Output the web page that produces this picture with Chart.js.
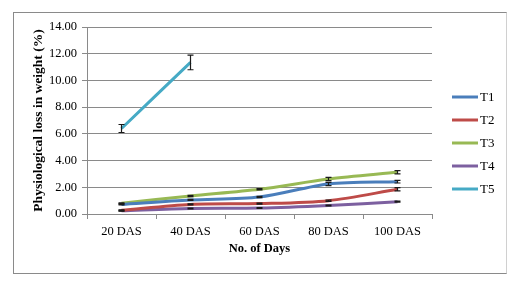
<!DOCTYPE html>
<html>
<head>
<meta charset="utf-8">
<script src="https://cdn.jsdelivr.net/npm/chart.js@4.4.0/dist/chart.umd.min.js"></script>
<style>
  html, body { margin: 0; padding: 0; background: #fff; }
  #frame {
    position: absolute; left: 13px; top: 12px;
    width: 492px; height: 260px;
    border: 1px solid #8a8a8a; border-right-color: #d0d0d0;
  }
  #frame canvas { display: block; }
</style>
</head>
<body>
<div id="frame"><canvas id="plw" width="492" height="260"></canvas></div>
<script>
// ── Data ──────────────────────────────────────────────────────
const days = ["20 DAS", "40 DAS", "60 DAS", "80 DAS", "100 DAS"];

const t1 = [0.72, 1.05, 1.27, 2.25, 2.42];
const t2 = [0.28, 0.72, 0.78, 1.00, 1.85];
const t3 = [0.80, 1.35, 1.85, 2.62, 3.12];
const t4 = [0.25, 0.42, 0.45, 0.64, 0.92];
const t5 = [6.40, 11.35, null, null, null];

// standard error per point
const t1Err = [0.04, 0.04, 0.05, 0.12, 0.10];
const t2Err = [0.04, 0.04, 0.04, 0.05, 0.12];
const t3Err = [0.04, 0.05, 0.05, 0.12, 0.12];
const t4Err = [0.03, 0.03, 0.03, 0.03, 0.04];
const t5Err = [0.30, 0.55, null, null, null];

const yTicks = [0, 2, 4, 6, 8, 10, 12, 14];

const SERIF = "'Liberation Serif', 'Times New Roman', serif";

// ── Error bars, drawn through the y scale ─────────────────────
const errorBars = {
  id: "errorBars",
  afterDatasetsDraw(chart) {
    const { ctx, scales: { y } } = chart;
    ctx.save();
    ctx.strokeStyle = "#1a1a1a";
    ctx.lineWidth = 1.2;
    chart.data.datasets.forEach((ds, i) => {
      const meta = chart.getDatasetMeta(i);
      (ds.errors || []).forEach((e, j) => {
        const v = ds.data[j];
        if (v == null || e == null) return;
        const x  = meta.data[j].x;
        const y0 = y.getPixelForValue(v + e);
        const y1 = y.getPixelForValue(v - e);
        ctx.beginPath();
        ctx.moveTo(x, y0); ctx.lineTo(x, y1);
        ctx.moveTo(x - 3, y0); ctx.lineTo(x + 3, y0);
        ctx.moveTo(x - 3, y1); ctx.lineTo(x + 3, y1);
        ctx.stroke();
      });
    });
    ctx.restore();
  },
};

// ── Legend on the right (line sample + label) ─────────────────
const sideLegend = {
  id: "sideLegend",
  afterDraw(chart) {
    const { ctx } = chart;
    const x0 = 438, y0 = 84, step = 23;
    ctx.save();
    ctx.font = "13px " + SERIF;
    ctx.textBaseline = "middle";
    chart.data.datasets.forEach((ds, i) => {
      const yy = y0 + i * step;
      ctx.strokeStyle = ds.borderColor;
      ctx.lineWidth = 3;
      ctx.beginPath();
      ctx.moveTo(x0, yy); ctx.lineTo(x0 + 26, yy);
      ctx.stroke();
      ctx.fillStyle = "#000";
      ctx.fillText(ds.label, x0 + 28, yy + 0.5);
    });
    ctx.restore();
  },
};

const series = (label, data, errors, color) => ({
  label, data, errors,
  borderColor: color,
  backgroundColor: color,
  borderWidth: 3,
  pointRadius: 0,
  tension: 0.3,
  spanGaps: false,
});

new Chart(document.getElementById("plw"), {
  type: "line",
  data: {
    labels: days,
    datasets: [
      series("T1", t1, t1Err, "#4a7ebb"),
      series("T2", t2, t2Err, "#be4b48"),
      series("T3", t3, t3Err, "#98b954"),
      series("T4", t4, t4Err, "#7d60a0"),
      series("T5", t5, t5Err, "#46aac5"),
    ],
  },
  options: {
    responsive: false,
    animation: false,
    layout: { padding: { left: 12, top: 14, right: 74, bottom: 13 } },
    plugins: { legend: { display: false }, tooltip: { enabled: false } },
    scales: {
      x: {
        offset: true,
        grid: { offset: true, drawOnChartArea: false, drawTicks: true, tickLength: 5, color: "#8a8a8a" },
        border: { color: "#8a8a8a" },
        ticks: { color: "#000", padding: 5, font: { family: SERIF, size: 12.5 } },
        title: { display: true, text: "No. of Days", color: "#000",
                 font: { family: SERIF, size: 12.5, weight: "bold" } },
        afterFit: (s) => { s.height = 46; },
      },
      y: {
        min: 0, max: 14,
        afterBuildTicks: (s) => { s.ticks = yTicks.map((v) => ({ value: v })); },
        grid: { color: "#8a8a8a", tickLength: 5 },
        border: { color: "#8a8a8a" },
        ticks: { color: "#000", padding: 5, font: { family: SERIF, size: 12.5 },
                 callback: (v) => Number(v).toFixed(2) },
        title: { display: true, text: "Physiological loss in weight (%)", color: "#000",
                 font: { family: SERIF, size: 13.5, weight: "bold" } },
        afterFit: (s) => { s.width = 61; },
      },
    },
  },
  plugins: [errorBars, sideLegend],
});
</script>
</body>
</html>
